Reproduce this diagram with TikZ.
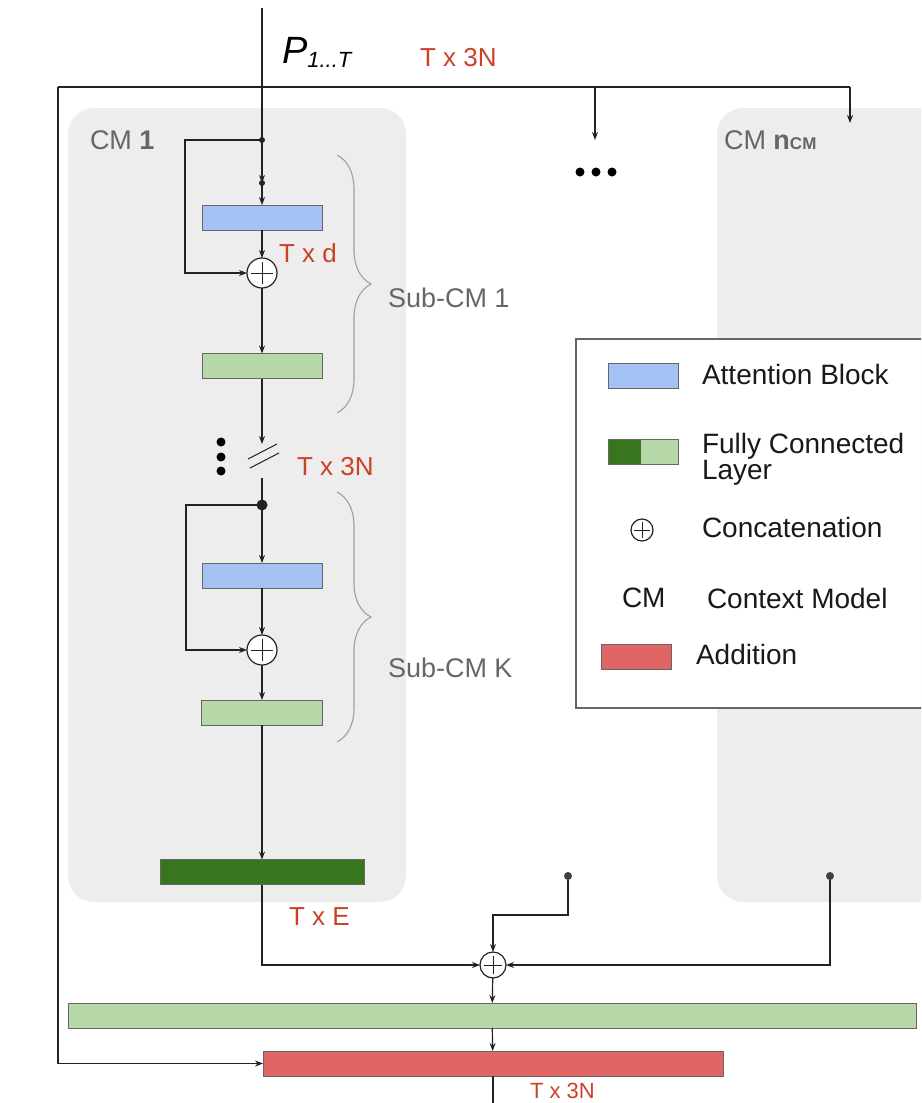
\documentclass[tikz,border=0pt]{standalone}
\usepackage{fontspec}
\setmainfont{Liberation Sans}
\usetikzlibrary{arrows.meta,decorations.pathreplacing}
\definecolor{cmgray}{HTML}{EDEDED}
\definecolor{attblue}{HTML}{A4C2F4}
\definecolor{fclight}{HTML}{B6D7A8}
\definecolor{fcdark}{HTML}{38761D}
\definecolor{addred}{HTML}{E06666}
\definecolor{lblred}{HTML}{CC4125}
\definecolor{txtgray}{HTML}{666666}
\definecolor{edgegray}{HTML}{666666}
\definecolor{linecol}{HTML}{222222}
\begin{document}
\begin{tikzpicture}[x=1pt,y=-1pt,
  line width=1.2pt,
  every node/.style={inner sep=0pt,outer sep=0pt},
  arr/.style={draw=linecol,-{Stealth[length=8pt,width=6pt]}},
  conn/.style={draw=linecol},
  cmbox/.style={fill=cmgray,draw=none,rounded corners=26pt},
  blk/.style={draw=edgegray,line width=1pt,minimum height=25pt},
  attn/.style={blk,fill=attblue,minimum width=120pt},
  fcl/.style={blk,fill=fclight},
  fcd/.style={blk,fill=fcdark},
  addb/.style={blk,fill=addred},
  plusc/.style={circle,draw=linecol,fill=white,line width=1.2pt,minimum size=#1,
     path picture={\draw[line width=0.9pt,linecol]
       ([xshift=-0.36*#1]path picture bounding box.center) -- ([xshift=0.36*#1]path picture bounding box.center)
       ([yshift=-0.36*#1]path picture bounding box.center) -- ([yshift=0.36*#1]path picture bounding box.center);}},
  dimlbl/.style={text=lblred,font=\fontsize{26}{26}\selectfont,anchor=west},
  graylbl/.style={text=txtgray,font=\fontsize{27}{27}\selectfont,anchor=west},
  leglbl/.style={text=black!90,font=\fontsize{28}{25}\selectfont,anchor=west,align=left},
  brc/.style={draw=gray!75,line width=1.1pt,decorate,decoration={brace,amplitude=34pt}},
  jdot/.style={circle,fill=linecol,inner sep=0pt}
]
\useasboundingbox (0,0) rectangle (921,1103);
\clip (0,0) rectangle (921,1103);

% context model panels
\node[cmbox,minimum width=338pt,minimum height=794pt] (cm1) at (237,505) {};
\node[cmbox,minimum width=240pt,minimum height=794pt] (cmn) at (837,505) {};
\node[graylbl] (cm1lbl) at (90,140) {CM \textbf{1}};
\node[graylbl] (cmnlbl) at (724,140) {CM \textbf{n}{\fontsize{17}{17}\selectfont\bfseries CM}};

% legend
\node[draw=edgegray,fill=white,line width=1.2pt,minimum width=380pt,minimum height=369pt,anchor=north west] (leg) at (576,339) {};
\node[blk,fill=attblue,minimum width=70pt] (legatt) at (643,375.5) {};
\node[leglbl] (legattl) at (702,374) {Attention Block};
\node[blk,fill=fclight,minimum width=70pt] (legfc) at (643,451.5) {};
\fill[fcdark] (608.5,439.5) rectangle (641,463.5);
\draw[edgegray,line width=1pt] (608,439) rectangle (678,464);
\node[leglbl] (legfcl) at (702,459) {Fully Connected\\Layer};
\node[plusc=22pt] (legplus) at (642,530) {};
\node[leglbl] (legplusl) at (702,527) {Concatenation};
\node[leglbl] (legcm) at (622,598) {CM};
\node[leglbl] (legcml) at (707,598) {Context Model};
\node[addb,minimum width=70pt] (legadd) at (636,657) {};
\node[leglbl] (legaddl) at (696,654) {Addition};

% blocks of CM 1
\node[attn] (a1) at (262,217.5) {};
\node[plusc=30pt] (p1) at (262,273) {};
\node[fcl,minimum width=120pt] (f1) at (262,366) {};
\node[attn] (a2) at (262,575.5) {};
\node[plusc=30pt] (p2) at (262,650) {};
\node[fcl,minimum width=121pt] (f2) at (262,712.5) {};
\node[fcd,minimum width=204pt] (fd) at (262,872) {};

% bottom blocks
\node[plusc=26pt] (pc) at (493,965) {};
\node[fcl,minimum width=848pt] (g) at (492,1015.5) {};
\node[addb,minimum width=460pt] (r) at (493,1063.5) {};

% coordinates
\coordinate (top) at (262,8);
\coordinate (j1) at (262,140);
\coordinate (j2) at (262,183);
\coordinate (l1) at (185,140);
\coordinate (s1) at (262,444);
\coordinate (s2) at (262,478);
\coordinate (j3) at (262,505);
\coordinate (l2) at (186,505);
\coordinate (hL) at (58,87);
\coordinate (hM) at (595,87);
\coordinate (hR) at (850,87);
\coordinate (dM) at (595,140);
\coordinate (dR) at (850,123);
\coordinate (e1) at (568,876);
\coordinate (e1b) at (568,915);
\coordinate (e2) at (830,876);
\coordinate (out) at (493,1110);

% input and broadcast
\draw[conn] (top) -- (j1);
\draw[conn] (hL) -- (hR);
\draw[arr] (hM) -- (dM);
\draw[arr] (hR) -- (dR);
\draw[arr] (hL) |- (r.west);

% sub-CM 1
\draw[arr] (j1) -- (j2);
\draw[arr] (j2) -- (a1);
\draw[arr] (j1) -- (l1) |- (p1);
\draw[arr] (a1) -- (p1);
\draw[arr] (p1) -- (f1);
\draw[arr] (f1) -- (s1);
\draw[conn,line width=1pt] (248,459) -- (277,444) (250,468) -- (279,453);
\draw[conn] (s2) -- (j3);

% sub-CM K
\draw[arr] (j3) -- (a2);
\draw[arr] (j3) -- (l2) |- (p2);
\draw[arr] (a2) -- (p2);
\draw[arr] (p2) -- (f2);
\draw[arr] (f2) -- (fd);

% combination
\draw[arr] (fd) |- (pc);
\draw[arr] (e1) -- (e1b) -| (pc);
\draw[arr] (e2) |- (pc);
\draw[arr] (pc) -- (g);
\draw[arr] (g) -- (r);
\draw[conn] (r) -- (out);

% dots
\node[jdot,minimum size=6pt] (dj1) at (j1) {};
\node[jdot,minimum size=6pt] (dj2) at (j2) {};
\node[jdot,minimum size=11pt] (dj3) at (j3) {};
\node[jdot,fill=black!75,minimum size=8pt] (de1) at (e1) {};
\node[jdot,fill=black!75,minimum size=8pt] (de2) at (e2) {};
\foreach \i/\xx in {1/580,2/596,3/612} {\node[jdot,fill=black,minimum size=9pt] (hd\i) at (\xx,172) {};}
\foreach \i/\yy in {1/442,2/457,3/471} {\node[jdot,fill=black,minimum size=9pt] (vd\i) at (221,\yy) {};}

% braces
\draw[brc] (337,155) -- (337,413);
\draw[brc] (337,492) -- (337,742);
\node[graylbl] (sub1) at (388,298) {Sub-CM 1};
\node[graylbl] (subk) at (388,668) {Sub-CM K};

% labels
\node[anchor=west] (plbl) at (282,52) {\fontsize{38}{38}\selectfont\textit{P}\raisebox{-4pt}{\fontsize{22}{22}\selectfont\textit{1...T}}};
\node[dimlbl] (d1) at (420,58) {T x 3N};
\node[dimlbl] (d2) at (279,253) {T x d};
\node[dimlbl] (d3) at (297,467) {T x 3N};
\node[dimlbl] (d4) at (289,917) {T x E};
\node[dimlbl,font=\fontsize{22}{22}\selectfont] (d5) at (530,1091) {T x 3N};
\end{tikzpicture}
\end{document}
